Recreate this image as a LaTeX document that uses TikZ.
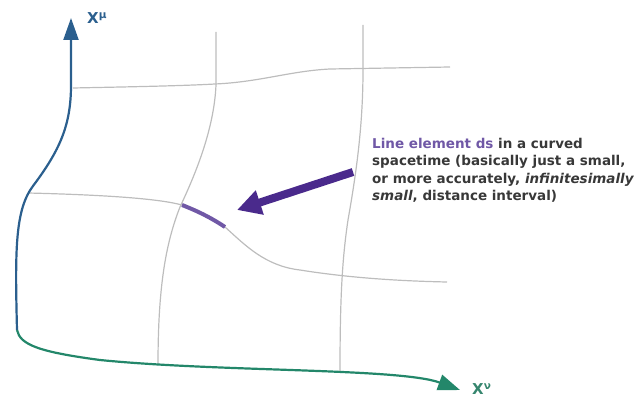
\documentclass[tikz,border=0pt]{standalone}
\usepackage{fontspec}
\setmainfont{DejaVu Sans}
\usetikzlibrary{arrows.meta}
\definecolor{axisblue}{HTML}{2B5F8E}
\definecolor{axisgreen}{HTML}{23876A}
\definecolor{dspurple}{HTML}{7058A6}
\definecolor{arrowpurple}{HTML}{4A2A8C}
\definecolor{notegray}{HTML}{383838}
\definecolor{gridgray}{HTML}{BDBDBD}

\begin{document}
\begin{tikzpicture}[
  x=1pt, y=-1pt,
  gridline/.style={draw=gridgray, line width=1.2pt},
  xmu/.style={draw=axisblue, line width=2.2pt},
  xnu/.style={draw=axisgreen, line width=2.2pt},
  dsline/.style={draw=dspurple, line width=4pt},
  pointer/.style={draw=arrowpurple, line width=8pt, -{Triangle[length=24pt,width=24pt]}},
  axislabel/.style={font=\bfseries\fontsize{15}{17}\selectfont, inner sep=0pt}
]
  \useasboundingbox (0,0) rectangle (639,401);

  \coordinate (corner) at (17,330);
  \coordinate (mutip) at (71,18);
  \coordinate (nutip) at (460,390);
  \coordinate (ds0) at (182,205);
  \coordinate (ds1) at (225,227);

  \draw[gridline] (73,88) .. controls (120,87) and (180,86) .. (215,84)
    .. controls (260,82) and (290,71) .. (330,69) -- (450,67);
  \draw[gridline] (28,193) .. controls (110,195) and (160,199) .. (ds0)
    .. controls (200,212) and (213,219) .. (ds1)
    .. controls (245,245) and (265,266) .. (300,270)
    .. controls (350,278) and (400,281) .. (447,282);
  \draw[gridline] (216,32) -- (216,85) .. controls (214,130) and (195,175) .. (180,207)
    .. controls (165,245) and (158,290) .. (158,365);
  \draw[gridline] (363,25) -- (363,70) .. controls (363,130) and (355,180) .. (348,220)
    .. controls (342,260) and (340,300) .. (340,372);

  \draw[dsline] (ds0) .. controls (200,212) and (213,219) .. (ds1);

  \draw[xmu, -{Triangle[length=22pt,width=15pt]}] (corner)
    .. controls (15,250) and (15,210) .. (33,186)
    .. controls (60,150) and (71,125) .. (71,85) -- (mutip);
  \draw[xnu, -{Triangle[length=22pt,width=16pt]}] (corner)
    .. controls (20,345) and (40,352) .. (100,360)
    .. controls (220,372) and (400,368) .. (nutip);

  \node[axislabel, text=axisblue, anchor=west] (mulabel) at (87,18) {X\textsuperscript{μ}};
  \node[axislabel, text=axisgreen!80!gray, anchor=west] (nulabel) at (472,389) {X\textsuperscript{ν}};

  \node[anchor=north west, inner sep=0pt, align=left, text=notegray,
        font=\bfseries\fontsize{13.5}{17.5}\selectfont] (note) at (372,138)
    {\textcolor{dspurple}{Line element ds} in a curved\\
     spacetime (basically just a small,\\
     or more accurately, \textit{infinitesimally}\\
     \textit{small}, distance interval)};

  \coordinate (tail) at (353,172);
  \draw[pointer] (tail) -- (237,210);
\end{tikzpicture}
\end{document}
